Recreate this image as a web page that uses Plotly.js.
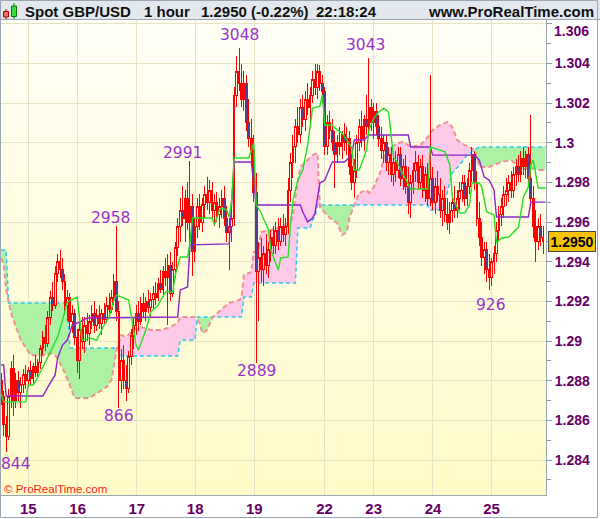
<!DOCTYPE html>
<html>
<head>
<meta charset="utf-8">
<script src="https://cdn.plot.ly/plotly-3.0.1.min.js"></script>
<style>
html,body{margin:0;padding:0;background:#ffffff;}
#wrap{position:relative;width:600px;height:519px;overflow:hidden;}
#bg{position:absolute;left:0;top:20px;width:546px;height:475px;background:linear-gradient(to bottom,#fffff7 0%,#fffde0 45%,#fffbc8 100%);}
#chart{position:absolute;left:0;top:0;width:600px;height:519px;}
#chart .boxlayer path{shape-rendering:crispEdges;}
</style>
</head>
<body>
<div id="wrap"><div id="bg"></div><div id="chart"></div></div>
<script>
// ---- Candles (hourly, index 0..221) ----
const open = [1.2880,1.2872,1.2858,1.2852,1.2872,1.2886,1.2870,1.2880,1.2874,1.2878,
1.2883,1.2880,1.2885,1.2881,1.2887,1.2884,1.2889,1.2896,1.2902,1.2899,
1.2912,1.2922,1.2918,1.2934,1.2940,1.2936,1.2930,1.2918,1.2922,1.2910,
1.2914,1.2902,1.2890,1.2906,1.2900,1.2908,1.2904,1.2910,1.2914,1.2908,
1.2913,1.2909,1.2914,1.2911,1.2918,1.2916,1.2922,1.2930,1.2915,1.2880,
1.2890,1.2880,1.2876,1.2892,1.2903,1.2908,1.2914,1.2910,1.2919,1.2915,
1.2920,1.2917,1.2921,1.2924,1.2922,1.2929,1.2926,1.2935,1.2932,1.2938,
1.2924,1.2936,1.2947,1.2958,1.2966,1.2962,1.2972,1.2960,1.2968,1.2945,
1.2958,1.2968,1.2960,1.2969,1.2974,1.2970,1.2976,1.2966,1.2970,1.2964,
1.2968,1.2972,1.2962,1.2955,1.2958,1.2962,1.3024,1.3036,1.3030,1.3022,
1.3030,1.3010,1.3002,1.2996,1.2975,1.2935,1.2942,1.2936,1.2944,1.2938,
1.2946,1.2952,1.2948,1.2956,1.2950,1.2958,1.2954,1.2958,1.2976,1.2990,
1.2998,1.3008,1.3004,1.3018,1.3012,1.3022,1.3018,1.3024,1.3032,1.3028,
1.3036,1.3030,1.3026,1.2998,1.3010,1.3006,1.3000,1.2994,1.3000,1.2998,
1.3004,1.3000,1.3002,1.2988,1.2980,1.2986,1.3000,1.3008,1.3002,1.3012,
1.3008,1.3018,1.3010,1.3016,1.3008,1.3002,1.2996,1.3000,1.2990,1.2994,
1.2984,1.2990,1.2986,1.2994,1.2982,1.2988,1.2978,1.2970,1.2980,1.2986,
1.2990,1.2980,1.2988,1.2976,1.2984,1.2972,1.2982,1.2970,1.2978,1.2974,
1.2966,1.2972,1.2964,1.2960,1.2966,1.2970,1.2966,1.2972,1.2976,1.2980,
1.2972,1.2978,1.2986,1.2994,1.2980,1.2962,1.2952,1.2942,1.2946,1.2936,
1.2932,1.2940,1.2944,1.2956,1.2964,1.2968,1.2974,1.2976,1.2980,1.2976,
1.2984,1.2988,1.2984,1.2992,1.2988,1.2994,1.2982,1.2972,1.2958,1.2950,
1.2958,1.2952];
const high = [1.2884,1.2875,1.2862,1.2876,1.2890,1.2893,1.2884,1.2885,1.2882,1.2886,
1.2888,1.2887,1.2890,1.2889,1.2893,1.2891,1.2898,1.2905,1.2908,1.2915,
1.2925,1.2930,1.2938,1.2944,1.2946,1.2942,1.2934,1.2926,1.2924,1.2918,
1.2916,1.2906,1.2910,1.2912,1.2912,1.2914,1.2913,1.2918,1.2920,1.2916,
1.2918,1.2916,1.2919,1.2922,1.2924,1.2926,1.2934,1.2958,1.2920,1.2896,
1.2898,1.2888,1.2895,1.2906,1.2912,1.2918,1.2920,1.2922,1.2924,1.2922,
1.2926,1.2924,1.2928,1.2930,1.2932,1.2936,1.2938,1.2942,1.2944,1.2945,
1.2940,1.2950,1.2962,1.2972,1.2978,1.2976,1.2980,1.2991,1.2974,1.2962,
1.2972,1.2974,1.2972,1.2978,1.2983,1.2981,1.2980,1.2974,1.2975,1.2972,
1.2976,1.2978,1.2968,1.2962,1.2966,1.3028,1.3044,1.3048,1.3040,1.3036,
1.3034,1.3022,1.3012,1.3004,1.2985,1.2950,1.2952,1.2948,1.2954,1.2950,
1.2956,1.2958,1.2960,1.2962,1.2962,1.2964,1.2962,1.2982,1.2995,1.3004,
1.3012,1.3018,1.3022,1.3024,1.3026,1.3030,1.3028,1.3036,1.3040,1.3040,
1.3039,1.3034,1.3028,1.3014,1.3016,1.3012,1.3006,1.3004,1.3008,1.3006,
1.3010,1.3008,1.3006,1.2994,1.2992,1.3004,1.3012,1.3016,1.3014,1.3024,
1.3043,1.3022,1.3020,1.3020,1.3014,1.3008,1.3004,1.3004,1.2998,1.2998,
1.2994,1.2996,1.2998,1.2998,1.2992,1.2994,1.2988,1.2984,1.2990,1.2996,
1.2994,1.2992,1.2994,1.2988,1.2990,1.3034,1.2988,1.2982,1.2986,1.2982,
1.2976,1.2978,1.2972,1.2970,1.2974,1.2978,1.2976,1.2980,1.2984,1.2984,
1.2982,1.2990,1.2998,1.2996,1.2986,1.2970,1.2960,1.2950,1.2950,1.2944,
1.2942,1.2948,1.2960,1.2968,1.2972,1.2978,1.2982,1.2984,1.2986,1.2988,
1.2992,1.2994,1.2996,1.2998,1.2996,1.2998,1.3014,1.2978,1.2966,1.2962,
1.2964,1.2958];
const low = [1.2868,1.2852,1.2844,1.2850,1.2866,1.2862,1.2866,1.2870,1.2866,1.2874,
1.2876,1.2877,1.2878,1.2879,1.2882,1.2882,1.2886,1.2893,1.2895,1.2897,
1.2908,1.2915,1.2916,1.2930,1.2932,1.2926,1.2914,1.2910,1.2906,1.2904,
1.2898,1.2884,1.2881,1.2896,1.2894,1.2900,1.2898,1.2906,1.2904,1.2905,
1.2906,1.2903,1.2908,1.2909,1.2912,1.2914,1.2918,1.2910,1.2866,1.2874,
1.2876,1.2870,1.2874,1.2888,1.2896,1.2903,1.2905,1.2908,1.2912,1.2910,
1.2914,1.2912,1.2916,1.2918,1.2920,1.2924,1.2922,1.2928,1.2908,1.2920,
1.2922,1.2932,1.2943,1.2950,1.2958,1.2950,1.2956,1.2940,1.2933,1.2940,
1.2952,1.2956,1.2955,1.2962,1.2966,1.2964,1.2962,1.2958,1.2960,1.2957,
1.2962,1.2958,1.2950,1.2936,1.2950,1.2958,1.3018,1.3026,1.3018,1.3016,
1.3006,1.2998,1.2990,1.2970,1.2889,1.2910,1.2930,1.2928,1.2934,1.2932,
1.2940,1.2944,1.2944,1.2946,1.2948,1.2950,1.2948,1.2954,1.2970,1.2982,
1.2990,1.3000,1.3000,1.3008,1.3006,1.3014,1.3010,1.3020,1.3024,1.3022,
1.3026,1.3020,1.2994,1.2994,1.3002,1.2996,1.2977,1.2990,1.2994,1.2992,
1.2996,1.2994,1.2984,1.2976,1.2972,1.2982,1.2996,1.2998,1.2996,1.3004,
1.3004,1.3006,1.3002,1.3004,1.2998,1.2992,1.2990,1.2986,1.2984,1.2980,
1.2978,1.2980,1.2982,1.2978,1.2976,1.2974,1.2964,1.2962,1.2974,1.2980,
1.2976,1.2976,1.2972,1.2970,1.2968,1.2968,1.2966,1.2964,1.2970,1.2962,
1.2958,1.2960,1.2956,1.2954,1.2960,1.2962,1.2962,1.2966,1.2970,1.2968,
1.2968,1.2974,1.2980,1.2976,1.2958,1.2948,1.2938,1.2934,1.2930,1.2926,
1.2928,1.2934,1.2940,1.2950,1.2958,1.2962,1.2968,1.2970,1.2972,1.2972,
1.2978,1.2980,1.2980,1.2984,1.2982,1.2978,1.2968,1.2952,1.2940,1.2946,
1.2948,1.2944];
const close = [1.2872,1.2858,1.2852,1.2872,1.2886,1.2870,1.2880,1.2874,1.2878,1.2883,
1.2880,1.2885,1.2881,1.2887,1.2884,1.2889,1.2896,1.2902,1.2899,1.2912,
1.2922,1.2918,1.2934,1.2940,1.2936,1.2930,1.2918,1.2922,1.2910,1.2914,
1.2902,1.2890,1.2906,1.2900,1.2908,1.2904,1.2910,1.2914,1.2908,1.2913,
1.2909,1.2914,1.2911,1.2918,1.2916,1.2922,1.2930,1.2915,1.2880,1.2890,
1.2880,1.2876,1.2892,1.2903,1.2908,1.2914,1.2910,1.2919,1.2915,1.2920,
1.2917,1.2921,1.2924,1.2922,1.2929,1.2926,1.2935,1.2932,1.2938,1.2924,
1.2936,1.2947,1.2958,1.2966,1.2962,1.2972,1.2960,1.2968,1.2945,1.2958,
1.2968,1.2960,1.2969,1.2974,1.2970,1.2976,1.2966,1.2970,1.2964,1.2968,
1.2972,1.2962,1.2955,1.2958,1.2962,1.3024,1.3036,1.3030,1.3022,1.3030,
1.3010,1.3002,1.2996,1.2975,1.2935,1.2942,1.2936,1.2944,1.2938,1.2946,
1.2952,1.2948,1.2956,1.2950,1.2958,1.2954,1.2958,1.2976,1.2990,1.2998,
1.3008,1.3004,1.3018,1.3012,1.3022,1.3018,1.3024,1.3032,1.3028,1.3036,
1.3030,1.3026,1.2998,1.3010,1.3006,1.3000,1.2994,1.3000,1.2998,1.3004,
1.3000,1.3002,1.2988,1.2980,1.2986,1.3000,1.3008,1.3002,1.3012,1.3008,
1.3018,1.3010,1.3016,1.3008,1.3002,1.2996,1.3000,1.2990,1.2994,1.2984,
1.2990,1.2986,1.2994,1.2982,1.2988,1.2978,1.2970,1.2980,1.2986,1.2990,
1.2980,1.2988,1.2976,1.2984,1.2972,1.2982,1.2970,1.2978,1.2974,1.2966,
1.2972,1.2964,1.2960,1.2966,1.2970,1.2966,1.2972,1.2976,1.2980,1.2972,
1.2978,1.2986,1.2994,1.2980,1.2962,1.2952,1.2942,1.2946,1.2936,1.2932,
1.2940,1.2944,1.2956,1.2964,1.2968,1.2974,1.2976,1.2980,1.2976,1.2984,
1.2988,1.2984,1.2992,1.2988,1.2994,1.2982,1.2972,1.2958,1.2950,1.2958,
1.2952,1.2950];

// ---- Ichimoku lines (vertices: bar index, price) ----
const tenkanX = [0,1,10,11,13,15,19,21,23,25,27,31,32,33,36,39,42,44,46,47,52,55,56,59,61,64,67,70,71,73,76,77,78,86,87,89,90,92,93,94,95,101,103,104,106,109,110,113,114,117,118,119,121,123,125,127,130,131,132,135,137,139,141,143,144,146,148,149,150,152,154,156,158,159,160,161,165,167,174,175,181,183,184,187,189,191,192,195,196,198,201,202,204,207,211,212,213,215,216,217,219,222];
const tenkanY = [1.28734,1.28693,1.28693,1.28778,1.28778,1.28819,1.28919,1.28970,1.29020,1.29106,1.29197,1.29222,1.29096,1.29005,1.29015,1.29005,1.29081,1.29121,1.29207,1.29232,1.29207,1.28980,1.28955,1.29056,1.29146,1.29182,1.29248,1.29248,1.29333,1.29424,1.29424,1.29495,1.29621,1.29621,1.29586,1.29661,1.29671,1.29661,1.29626,1.29711,1.29923,1.29923,1.29999,1.29686,1.29646,1.29560,1.29459,1.29358,1.29419,1.29424,1.29586,1.29711,1.29812,1.29863,1.29989,1.30175,1.30185,1.30241,1.30090,1.30090,1.30065,1.30049,1.30014,1.29974,1.29863,1.29863,1.29928,1.29964,1.30065,1.30125,1.30155,1.30175,1.30155,1.30029,1.29928,1.29913,1.29812,1.29767,1.29767,1.29979,1.29954,1.29888,1.29727,1.29646,1.29646,1.29686,1.29797,1.29797,1.29777,1.29651,1.29636,1.29495,1.29520,1.29525,1.29575,1.29646,1.29727,1.29777,1.29888,1.29913,1.29772,1.29772];
const kijunX = [0,1,2,17,19,22,23,25,27,29,32,35,72,73,76,77,93,95,102,104,122,123,125,127,128,130,132,135,140,143,144,148,150,166,167,175,176,193,195,197,199,201,202,215,216,222];
const kijunY = [1.28879,1.28879,1.28723,1.28723,1.28768,1.28829,1.28914,1.28980,1.29005,1.29081,1.29096,1.29116,1.29121,1.29258,1.29273,1.29485,1.29490,1.29903,1.29903,1.29686,1.29686,1.29651,1.29601,1.29621,1.29646,1.29797,1.29812,1.29903,1.29903,1.29938,1.30014,1.30014,1.30039,1.30039,1.29979,1.29979,1.29938,1.29938,1.29913,1.29828,1.29812,1.29762,1.29626,1.29626,1.29701,1.29701];
const spanCyanX = [0,2,3,27,28,48,49,72,73,79,80,98,99,102,103,120,121,126,127,128,129,174,175,180,184,187,190,193,195,222];
const spanCyanY = [1.29459,1.29459,1.29192,1.29192,1.28965,1.28965,1.28924,1.28924,1.29005,1.29005,1.29121,1.29121,1.29222,1.29222,1.29293,1.29293,1.29570,1.29570,1.29611,1.29626,1.29686,1.29686,1.29661,1.29661,1.29848,1.29888,1.29938,1.29964,1.29979,1.29979];
const spanSalmonX = [0,1,2,4,6,8,12,18,21,23,26,29,30,36,40,43,45,46,47,49,51,54,57,61,65,68,72,73,79,81,82,84,86,91,93,97,98,99,102,103,105,106,110,114,118,119,120,122,125,127,129,130,131,134,137,139,141,142,144,145,146,149,150,152,155,156,157,159,162,164,167,171,174,176,179,182,184,186,189,191,193,194,195,199,204,208,210,212,216,219,222];
const spanSalmonY = [1.29419,1.29384,1.29258,1.29142,1.29071,1.29005,1.28929,1.28929,1.28939,1.28914,1.28839,1.28738,1.28713,1.28713,1.28743,1.28768,1.28804,1.28889,1.28955,1.29030,1.29020,1.29056,1.29071,1.29056,1.29056,1.29066,1.29091,1.29121,1.29121,1.29091,1.29040,1.29056,1.29116,1.29172,1.29192,1.29207,1.29217,1.29333,1.29348,1.29449,1.29459,1.29550,1.29560,1.29575,1.29601,1.29636,1.29727,1.29878,1.29913,1.29938,1.29948,1.29676,1.29661,1.29621,1.29596,1.29535,1.29550,1.29621,1.29686,1.29721,1.29747,1.29762,1.29747,1.29777,1.29863,1.29928,1.29964,1.29979,1.29999,1.30004,1.29979,1.29989,1.30029,1.30065,1.30090,1.30105,1.30080,1.30014,1.29989,1.29979,1.29964,1.29928,1.29878,1.29878,1.29903,1.29913,1.29888,1.29863,1.29873,1.29863,1.29863];

// ---- Axis ticks ----
const dayTickPos = [11.06,31.2,55.3,79.1,103.2,131.9,151.9,176.1,200.0];
const dayTickText = ['15','16','17','18','19','22','23','24','25'];
const priceTicks = [1.284,1.286,1.288,1.290,1.292,1.294,1.296,1.298,1.300,1.302,1.304,1.306];
const priceTickText = ['1.284','1.286','1.288','1.29','1.292','1.294','1.296','1.298','1.3','1.302','1.304',''];
const priceMinor = [1.283,1.285,1.287,1.289,1.291,1.293,1.295,1.297,1.299,1.301,1.303,1.305];

// ---- Extremes labels ----
const extLabels = ['844','2958','866','2991','3048','2889','3043','926'];
const extBar    = [2,47,48,77,97,104,150,199];
const extKind   = ['low','high','low','high','high','low','high','low'];

const lastPrice = 1.2950;

const idx = open.map((_, i) => i);
const xRange = [-0.49, 222.2];
const yRange = [1.282235, 1.306194];

// cloud fill built from the two span series
function at(xs, ys, x){
  if (x <= xs[0]) return ys[0];
  for (let i = 1; i < xs.length; i++){
    if (x <= xs[i]){ const t = (x - xs[i-1])/(xs[i]-xs[i-1]); return ys[i-1] + t*(ys[i]-ys[i-1]); }
  }
  return ys[ys.length-1];
}
let grid = Array.from(new Set(spanCyanX.concat(spanSalmonX))).sort((a,b)=>a-b);
let g = [];
for (let k = 0; k < grid.length; k++){
  g.push(grid[k]);
  if (k < grid.length-1){
    const d0 = at(spanCyanX,spanCyanY,grid[k]) - at(spanSalmonX,spanSalmonY,grid[k]);
    const d1 = at(spanCyanX,spanCyanY,grid[k+1]) - at(spanSalmonX,spanSalmonY,grid[k+1]);
    if (d0*d1 < 0){ g.push(grid[k] + (grid[k+1]-grid[k])*d0/(d0-d1)); }
  }
}
const cyG = g.map(x => at(spanCyanX,spanCyanY,x));
const saG = g.map(x => at(spanSalmonX,spanSalmonY,x));
const topG = g.map((x,i) => Math.max(cyG[i], saG[i]));

const GREEN_FILL = '#adf2a4', PINK_FILL = '#ffcaea';
const base = {type:'scatter', mode:'lines', hoverinfo:'skip', showlegend:false};
const traces = [
  Object.assign({}, base, {x:g, y:saG, line:{width:0}}),
  Object.assign({}, base, {x:g, y:topG, line:{width:0}, fill:'tonexty', fillcolor:GREEN_FILL}),
  Object.assign({}, base, {x:g, y:cyG, line:{width:0}}),
  Object.assign({}, base, {x:g, y:topG, line:{width:0}, fill:'tonexty', fillcolor:PINK_FILL}),
  Object.assign({}, base, {x:spanCyanX, y:spanCyanY, line:{color:'#2cc8f0', width:1.5, dash:'4px,3px'}}),
  Object.assign({}, base, {x:spanSalmonX, y:spanSalmonY, line:{color:'#f09090', width:2, dash:'5px,3px'}}),
  {type:'candlestick', x:idx, open:open, high:high, low:low, close:close, xaxis:'x2', yaxis:'y2',
   whiskerwidth:0, hoverinfo:'skip', showlegend:false,
   increasing:{line:{color:'#ff0000', width:1}, fillcolor:'rgba(255,255,255,0)'},
   decreasing:{line:{color:'#ff0000', width:1}, fillcolor:'#533d95'}},
  Object.assign({}, base, {x:kijunX, y:kijunY, xaxis:'x2', yaxis:'y2', line:{color:'#8e24c8', width:1.4}}),
  Object.assign({}, base, {x:tenkanX, y:tenkanY, xaxis:'x2', yaxis:'y2', line:{color:'#22e022', width:1.4}})
];

// pixel -> paper helpers (plot area: x 0..546, y 20..495)
const PX = px => px/546;
const PY = py => (495 - py)/475;

const hdrFont = {family:'Liberation Sans, Arial, sans-serif', size:15, color:'#111111', weight:'bold'};
const annotations = [
  {xref:'paper', yref:'paper', x:PX(23), y:PY(11), xanchor:'left', yanchor:'middle', text:'Spot GBP/USD', showarrow:false, font:hdrFont},
  {xref:'paper', yref:'paper', x:PX(142), y:PY(11), xanchor:'left', yanchor:'middle', text:'1 hour', showarrow:false, font:hdrFont},
  {xref:'paper', yref:'paper', x:PX(199), y:PY(11), xanchor:'left', yanchor:'middle', text:'1.2950 (-0.22%)', showarrow:false, font:hdrFont},
  {xref:'paper', yref:'paper', x:PX(314), y:PY(11), xanchor:'left', yanchor:'middle', text:'22:18:24', showarrow:false, font:hdrFont},
  {xref:'paper', yref:'paper', x:PX(596), y:PY(11), xanchor:'right', yanchor:'middle', text:'www.ProRealTime.com', showarrow:false, font:hdrFont},
  {xref:'paper', yref:'paper', x:PX(2), y:PY(489), xanchor:'left', yanchor:'middle', text:'© ProRealTime.com', showarrow:false,
   font:{family:'Liberation Sans, Arial, sans-serif', size:11.5, color:'#ff2020'}},
  {xref:'paper', yref:'paper', x:PX(552), y:PY(31), xanchor:'left', yanchor:'middle', text:'1.306', showarrow:false,
   font:{family:'Liberation Sans, Arial, sans-serif', size:14, color:'#660066', weight:'bold'}},
  {xref:'paper', yref:'y', x:PX(548), y:lastPrice, xanchor:'left', yanchor:'middle', text:'1.2950', showarrow:false,
   bgcolor:'#f7c300', bordercolor:'#444444', borderwidth:1, borderpad:1.5,
   font:{family:'Liberation Sans, Arial, sans-serif', size:14, color:'#000000', weight:'bold'}}
];
const extShift = {'844':[10,-12], '2958':[-6,8], '866':[0,-8], '2991':[-7,7.5], '3048':[0,13], '2889':[0,-8], '3043':[-3,12.5], '926':[2,-15]};
extLabels.forEach((t, k) => {
  const b = extBar[k];
  const yv = extKind[k] === 'high' ? high[b] : low[b];
  annotations.push({xref:'x', yref:'y', x:b, y:yv, text:t, showarrow:false, xanchor:'center', yanchor:'middle',
    xshift:extShift[t][0], yshift:extShift[t][1],
    font:{family:'DejaVu Sans, sans-serif', size:15.5, color:'#9932cc'}});
});

const shapes = [
  {type:'rect', xref:'paper', yref:'paper', x0:PX(0), x1:PX(600), y0:PY(19.5), y1:PY(0), fillcolor:'#e2e8ee', line:{width:0}, layer:'below'},
  {type:'line', xref:'paper', yref:'paper', x0:PX(0), x1:PX(600), y0:PY(19.5), y1:PY(19.5), line:{color:'#9aa6b2', width:1}},
  {type:'rect', xref:'paper', yref:'paper', x0:PX(0.5), x1:PX(597.5), y0:PY(517.5), y1:PY(0.5), line:{color:'#9aa6b2', width:1}},
  // small candle icon in the header
  {type:'line', xref:'paper', yref:'paper', x0:PX(6), x1:PX(6), y0:PY(19), y1:PY(9), line:{color:'#b00000', width:1}},
  {type:'rect', xref:'paper', yref:'paper', x0:PX(3.5), x1:PX(8.5), y0:PY(17), y1:PY(11.5), fillcolor:'#f07070', line:{color:'#b00000', width:1}},
  {type:'line', xref:'paper', yref:'paper', x0:PX(14), x1:PX(14), y0:PY(19), y1:PY(3), line:{color:'#007700', width:1}},
  {type:'rect', xref:'paper', yref:'paper', x0:PX(11.5), x1:PX(16.5), y0:PY(16.5), y1:PY(6), fillcolor:'#40dd40', line:{color:'#007700', width:1}}
];

const tickFontB = {family:'Liberation Sans, Arial, sans-serif', size:14, color:'#660066', weight:'bold'};
const layout = {
  width:600, height:519,
  margin:{l:0, r:54, t:20, b:24, pad:0},
  paper_bgcolor:'rgba(0,0,0,0)', plot_bgcolor:'rgba(0,0,0,0)',
  showlegend:false, boxgap:0.0,
  xaxis:{range:xRange, tickmode:'array', tickvals:dayTickPos, ticktext:dayTickText,
    showgrid:true, gridcolor:'#e4e4c4', gridwidth:1, zeroline:false, showline:true, linecolor:'#9aa6b2', linewidth:1,
    ticks:'', tickfont:{family:'Liberation Sans, Arial, sans-serif', size:15, color:'#660066', weight:'bold'},
    rangeslider:{visible:false}, fixedrange:true},
  yaxis:{range:yRange, side:'right', tickmode:'array', tickvals:priceTicks, ticktext:priceTickText,
    showgrid:true, gridcolor:'#e4e4c4', gridwidth:1, zeroline:false, showline:true, linecolor:'#9aa6b2', linewidth:1,
    ticks:'outside', ticklen:5, tickcolor:'#8c99a6', tickfont:tickFontB, fixedrange:true,
    minor:{tickmode:'array', tickvals:priceMinor, ticks:'outside', ticklen:4, tickcolor:'#8c99a6', showgrid:false}},
  xaxis2:{range:xRange, overlaying:'x', visible:false, rangeslider:{visible:false}, fixedrange:true},
  yaxis2:{range:yRange, overlaying:'y', visible:false, fixedrange:true},
  shapes:shapes,
  annotations:annotations
};
Plotly.newPlot('chart', traces, layout, {staticPlot:true, displayModeBar:false});
</script>
</body>
</html>
